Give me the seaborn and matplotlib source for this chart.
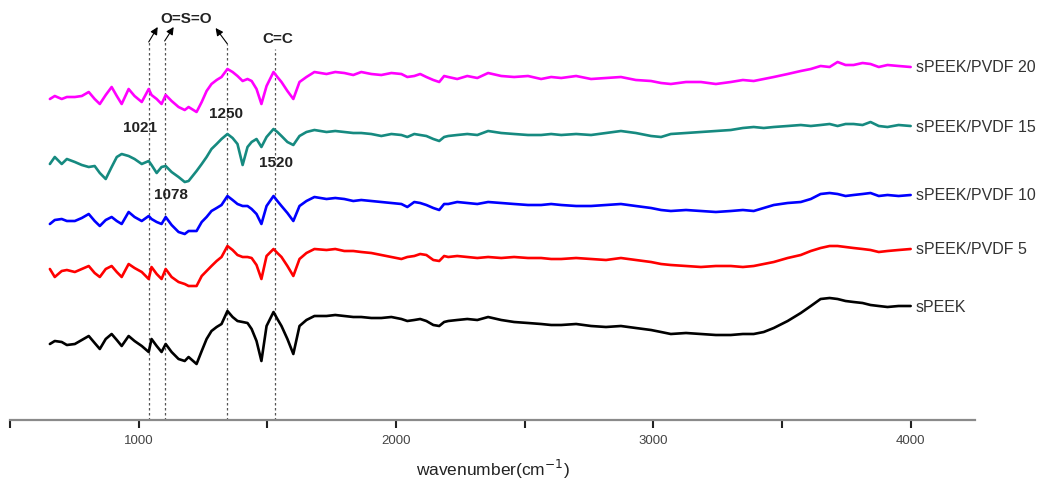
import numpy as np
import pandas as pd
import matplotlib
matplotlib.use("Agg")
import matplotlib.pyplot as plt
import seaborn as sns

# wavenumber grid (cm^-1)
wavenumber = [655, 674, 701, 721, 752, 779, 806, 829, 849, 872,
              895, 915, 934, 961, 984, 1012, 1039, 1050, 1070, 1089,
              1105, 1128, 1155, 1179, 1194, 1225, 1245, 1264, 1283, 1303,
              1322, 1345, 1365, 1384, 1404, 1423, 1439, 1458, 1477, 1497,
              1524, 1539, 1555, 1578, 1601, 1625, 1652,
              1683, 1730, 1764, 1799, 1834, 1865, 1904, 1943, 1982, 2021,
              2044, 2071, 2094, 2118, 2145, 2168, 2187, 2203, 2238, 2277,
              2316, 2358, 2409, 2459, 2513, 2564, 2603, 2642, 2700, 2758,
              2816, 2874, 2932, 2991, 3030, 3068, 3127, 3185, 3243, 3301,
              3348, 3390, 3429, 3468, 3522, 3573, 3612, 3650, 3685, 3716,
              3747, 3778, 3813, 3844, 3876, 3910, 3953, 4000]

# stacked transmittance traces (a.u., offset as in the figure)
speek = [85, 88, 87, 84, 85, 89, 93, 86, 80, 90,
         95, 89, 83, 93, 88, 83, 77, 90, 83, 77,
         85, 77, 70, 68, 72, 65, 78, 90, 98, 102,
         105, 118, 112, 108, 107, 106, 100, 88, 68, 103,
         117, 110, 103, 90, 75, 103, 109,
         113, 113, 114, 113, 112, 112, 111, 111, 112, 110,
         108, 109, 110, 108, 104, 103, 107, 108, 109, 110,
         109, 112, 109, 107, 106, 105, 104, 104, 105, 103,
         102, 103, 101, 99, 97, 95, 96, 95, 94, 94,
         95, 95, 97, 101, 108, 116, 123, 130, 131, 130,
         128, 127, 126, 124, 123, 122, 123, 123]
pvdf5 = [160, 152, 158, 159, 157, 160, 163, 156, 152, 160,
         163, 157, 152, 165, 161, 157, 150, 162, 155, 150,
         160, 152, 147, 145, 143, 143, 153, 158, 163, 168,
         172, 183, 179, 174, 172, 172, 171, 164, 150, 173,
         180, 176, 172, 163, 153, 170, 176,
         180, 179, 180, 178, 178, 177, 176, 174, 172, 170,
         172, 173, 175, 174, 169, 168, 173, 172, 173, 172,
         171, 172, 171, 172, 171, 171, 170, 170, 171, 170,
         169, 171, 169, 167, 165, 164, 163, 162, 163, 163,
         162, 163, 165, 167, 171, 174, 178, 181, 183, 183,
         182, 181, 180, 179, 177, 178, 179, 180]
pvdf10 = [205, 209, 210, 208, 208, 211, 215, 208, 203, 209,
          212, 208, 205, 217, 212, 208, 213, 210, 207, 205,
          212, 204, 197, 195, 198, 198, 207, 212, 218, 221,
          224, 233, 229, 225, 223, 223, 220, 215, 205, 223,
          233, 228, 223, 216, 208, 223, 228,
          232, 230, 231, 230, 228, 229, 228, 227, 226, 225,
          222, 227, 226, 224, 221, 219, 225, 225, 227, 226,
          225, 227, 226, 225, 224, 224, 225, 224, 223, 223,
          224, 225, 223, 221, 219, 218, 219, 218, 217, 218,
          219, 218, 221, 224, 226, 227, 230, 235, 236, 235,
          233, 234, 235, 236, 233, 234, 233, 234]
pvdf15 = [265, 272, 265, 270, 267, 264, 262, 263, 256, 250,
          262, 272, 275, 273, 270, 265, 268, 264, 256, 262,
          263, 257, 252, 247, 248, 258, 265, 272, 280, 285,
          290, 295, 291, 285, 264, 282, 287, 290, 282, 292,
          300, 297, 293, 287, 284, 293, 297,
          299, 297, 298, 297, 296, 296, 295, 293, 295, 294,
          292, 295, 294, 293, 290, 288, 292, 293, 294, 295,
          294, 298, 296, 295, 294, 294, 295, 294, 295, 294,
          296, 298, 296, 293, 292, 295, 296, 297, 298, 299,
          301, 302, 301, 302, 303, 304, 303, 304, 305, 303,
          305, 305, 304, 307, 303, 302, 304, 303]
pvdf20 = [330, 333, 330, 332, 332, 333, 337, 330, 325, 334,
          342, 333, 325, 340, 333, 327, 340, 334, 330, 325,
          334, 328, 322, 319, 322, 317, 327, 338, 345, 349,
          352, 360, 357, 353, 348, 350, 348, 340, 325, 343,
          357, 352, 347, 338, 330, 347, 352,
          357, 355, 357, 356, 354, 357, 355, 354, 356, 355,
          352, 353, 355, 352, 349, 347, 353, 352, 350, 353,
          351, 356, 353, 352, 353, 350, 352, 351, 353, 350,
          351, 352, 349, 348, 346, 345, 347, 347, 345, 347,
          349, 348, 350, 352, 355, 358, 360, 363, 362, 367,
          364, 364, 366, 365, 362, 364, 363, 362]

sample_names = ["sPEEK", "sPEEK/PVDF 5", "sPEEK/PVDF 10", "sPEEK/PVDF 15", "sPEEK/PVDF 20"]
series = [speek, pvdf5, pvdf10, pvdf15, pvdf20]
colors = ["#000000", "#ff0000", "#0000ff", "#168a80", "#ff00ff"]

# band markers
band_positions = [1039, 1101, 1345, 1528]
band_labels = ["1021", "1078", "1250", "1520"]

sns.set_style("white")
plt.rcParams["font.family"] = ["Liberation Sans", "DejaVu Sans"]

df = pd.concat([pd.DataFrame({"wavenumber": wavenumber, "T": s, "sample": n})
                for n, s in zip(sample_names, series)], ignore_index=True)

fig = plt.figure(figsize=(10.46, 4.81), dpi=100)
ax = fig.add_axes([10 / 1046, 60 / 481, 965 / 1046, 416 / 481])

sns.lineplot(data=df, x="wavenumber", y="T", hue="sample", hue_order=sample_names,
             palette=colors, estimator=None, sort=False, legend=False, lw=1.9, ax=ax)

ax.set_xlim(500, 4250)
ax.set_ylim(9, 425)

# dashed band markers
tops = [387, 388, 385, 380]
for x, t in zip(band_positions, tops):
    ax.plot([x, x], [9, t], ls=(0, (2, 2)), color="#555555", lw=0.9, zorder=1)

arrow = dict(arrowstyle="-|>", color="black", lw=0.8, mutation_scale=11, shrinkA=0, shrinkB=0)
ax.annotate("", xy=(1074, 402), xytext=(band_positions[0], 387), arrowprops=arrow)
ax.annotate("", xy=(1136, 402), xytext=(band_positions[1], 388), arrowprops=arrow)
ax.annotate("", xy=(1299, 401), xytext=(band_positions[2], 385), arrowprops=arrow)

txt = dict(fontsize=11, fontweight="bold", color="#222222", ha="center", va="center")
ax.text(1186, 411, "O=S=O", **txt)
ax.text(1539, 391, "C=C", **txt)
label_pos = [(1004, 302), (1124, 235), (1338, 316), (1532, 267)]
for (x, y), lab in zip(label_pos, band_labels):
    ax.text(x, y, lab, **txt)

# curve labels at the right end
for n, s in zip(sample_names, series):
    ax.text(4020, s[-1], n, fontsize=11.5, color="#333333", ha="left", va="center")

for side in ["left", "right", "top"]:
    ax.spines[side].set_visible(False)
ax.spines["bottom"].set_color("#8a8a8a")
ax.spines["bottom"].set_linewidth(1.6)

ax.set_yticks([])
ax.set_xticks([1000, 2000, 3000, 4000])
ax.set_xticks([500, 1500, 2500, 3500], minor=True)
ax.tick_params(axis="x", which="both", bottom=True, direction="out", length=6, width=1.5,
               color="#222222", labelsize=9.5, labelcolor="#444444", pad=4)
ax.set_ylabel("")
ax.set_xlabel("wavenumber(cm$^{-1}$)", fontsize=12.5, color="#222222", labelpad=8)

fig.savefig("out.png", dpi=100)
